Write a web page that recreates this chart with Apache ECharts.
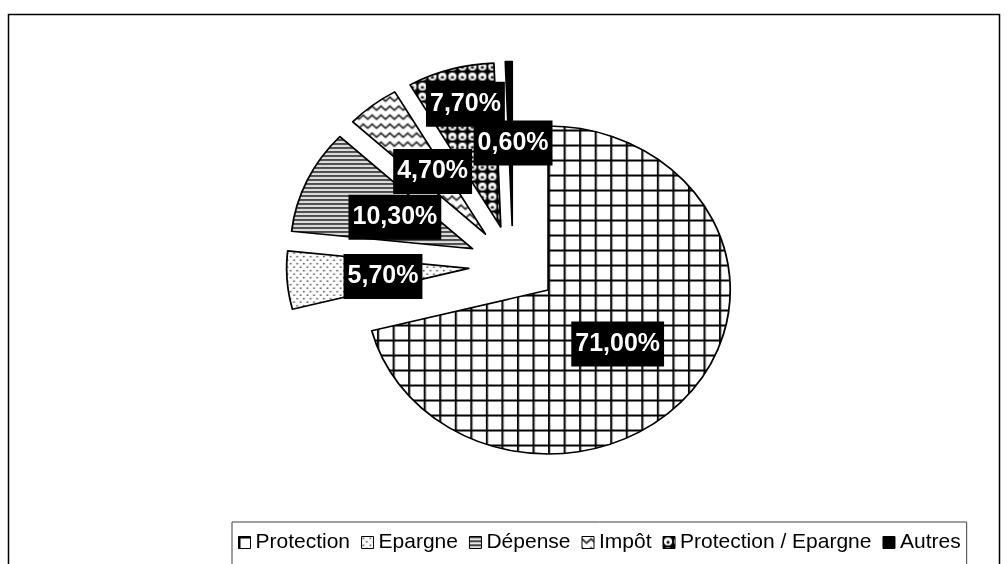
<!DOCTYPE html>
<html><head><meta charset="utf-8">
<script src="https://cdn.jsdelivr.net/npm/echarts@6/dist/echarts.min.js"></script>
<style>
html,body{margin:0;padding:0;background:#fff;overflow:hidden;}
#wrap{position:relative;width:1007px;height:564px;}
#pie{position:absolute;left:0;top:0;width:907px;height:564px;transform:scaleX(1.1103);transform-origin:0 0;}
#over{position:absolute;left:0;top:0;width:1007px;height:564px;}
</style></head><body>
<div id="wrap"><div id="pie"></div><div id="over"></div></div>
<script>
// ---- data ----
const categories = ['Protection', 'Epargne', 'Dépense', 'Impôt', 'Protection / Epargne', 'Autres'];
const shares = [71.0, 5.7, 10.3, 4.7, 7.7, 0.6];

// ---- layout / style settings ----
const STRETCH = 1007 / 907;           // pie is drawn elliptical (wider than tall)
const CX = 513, CY = 265.5, R = 164, EXPLODE = 40;
const labelNudge = [[-1.5, 2], [4, 2], [4, 4], [3, 4], [-10.5, -41], [2.6, 2.5]];
const FONT = "'Liberation Sans', Arial, sans-serif";

function mk(w, h, draw) {
  const c = document.createElement('canvas');
  c.width = w; c.height = h;
  const g = c.getContext('2d');
  g.fillStyle = '#fff'; g.fillRect(0, 0, w, h);
  draw(g, w, h);
  return c;
}
function patterns(sx) {
  const grid = mk(Math.round(15.3 / sx), 15, (g, w, h) => {
    g.fillStyle = '#000';
    g.fillRect(0, 0, 2 / sx, h);
    g.fillRect(0, 0, w, 2);
  });
  const dots = mk(Math.round(7 / sx), 7, (g) => {
    g.fillStyle = '#333';
    g.fillRect(1 / sx, 1, 1.5 / sx, 1.5);
    g.fillRect(4.5 / sx, 4.5, 1.5 / sx, 1.5);
  });
  const hlines = mk(4, 4, (g, w) => {
    g.fillStyle = '#111'; g.fillRect(0, 0, w, 1);
    g.fillStyle = '#777'; g.fillRect(0, 1, w, 1);
    g.fillStyle = '#d0d0d0'; g.fillRect(0, 3, w, 1);
  });
  const zig = mk(Math.round(9 / sx), 9, (g, w) => {
    g.strokeStyle = '#333'; g.lineWidth = 1.7;
    g.beginPath();
    g.moveTo(-w / 2, 6.5); g.lineTo(0, 2.5); g.lineTo(w / 2, 6.5); g.lineTo(w, 2.5); g.lineTo(w * 1.5, 6.5);
    g.stroke();
  });
  const bubbles = mk(Math.round(10 / sx), 10, (g, w, h) => {
    g.fillStyle = '#000'; g.fillRect(0, 0, w, h);
    g.save(); g.translate(w / 2, h / 2); g.scale(1 / sx, 1);
    g.fillStyle = '#fff'; g.beginPath(); g.arc(0, 0, 4.1, 0, Math.PI * 2); g.fill();
    g.fillStyle = '#000'; g.beginPath(); g.arc(0, 0.8, 1.5, 0, Math.PI * 2); g.fill();
    g.restore();
  });
  return [grid, dots, hlines, zig, bubbles].map(c => ({
    image: c, repeat: 'repeat', imageWidth: c.width, imageHeight: c.height
  })).concat(['#000']);
}

// ---- instance A: the exploded (stretched) pie slices ----
const patA = patterns(STRETCH);
const chartA = echarts.init(document.getElementById('pie'), null, { renderer: 'svg' });
chartA.setOption({
  animation: false,
  series: [{
    type: 'pie',
    center: [CX / STRETCH, CY],
    radius: R,
    startAngle: 90,
    clockwise: true,
    selectedMode: 'multiple',
    selectedOffset: EXPLODE,
    avoidLabelOverlap: false,
    silent: true,
    label: { show: false },
    labelLine: { show: false },
    itemStyle: { borderColor: '#000', borderWidth: 1.6 },
    select: { itemStyle: { borderColor: '#000', borderWidth: 1.6 } },
    data: categories.map((n, i) => ({
      name: n, value: shares[i], selected: true,
      itemStyle: { color: patA[i] }
    }))
  }]
});

// ---- instance B: labels, legend, frame ----
const patB = patterns(1);
const chartB = echarts.init(document.getElementById('over'), null, { renderer: 'canvas' });
chartB.setOption({
  animation: false,
  graphic: [{
    type: 'rect', silent: true, z: -10,
    shape: { x: 8.5, y: 14.5, width: 991, height: 580 },
    style: { fill: 'none', stroke: '#000', lineWidth: 1.5 }
  }],
  legend: {
    left: 232, top: 522,
    orient: 'horizontal',
    padding: [10, 6, 12, 6],
    itemGap: 11, itemWidth: 12, itemHeight: 12,
    icon: 'rect',
    selectedMode: false,
    borderColor: '#404040', borderWidth: 1,
    textStyle: { fontSize: 21, fontFamily: FONT, color: '#000' },
    data: categories.map((n, i) => ({
      name: n,
      itemStyle: { color: patB[i], borderColor: '#000', borderWidth: 1 }
    }))
  },
  series: [{
    type: 'pie',
    center: [CX, CY],
    radius: R,
    startAngle: 90,
    clockwise: true,
    selectedMode: 'multiple',
    selectedOffset: EXPLODE,
    avoidLabelOverlap: false,
    silent: true,
    itemStyle: { color: 'rgba(0,0,0,0)', borderWidth: 0 },
    select: { itemStyle: { color: 'rgba(0,0,0,0)', borderWidth: 0 } },
    labelLine: { show: false },
    label: {
      show: true,
      position: 'inside',
      formatter: p => p.value.toFixed(2).replace('.', ',') + '%',
      color: '#fff',
      fontWeight: 'bold',
      fontSize: 25,
      fontFamily: FONT,
      lineHeight: 26,
      backgroundColor: '#000',
      padding: [10, 4, 9, 4]
    },
    labelLayout: function (p) {
      const r = p.labelRect;
      const lx = r.x + r.width / 2;
      const nd = labelNudge[p.dataIndex] || [0, 0];
      return { dx: (lx - CX) * (STRETCH - 1) + nd[0], dy: nd[1] };
    },
    data: categories.map((n, i) => ({ name: n, value: shares[i], selected: true }))
  }]
});
</script>
</body></html>
